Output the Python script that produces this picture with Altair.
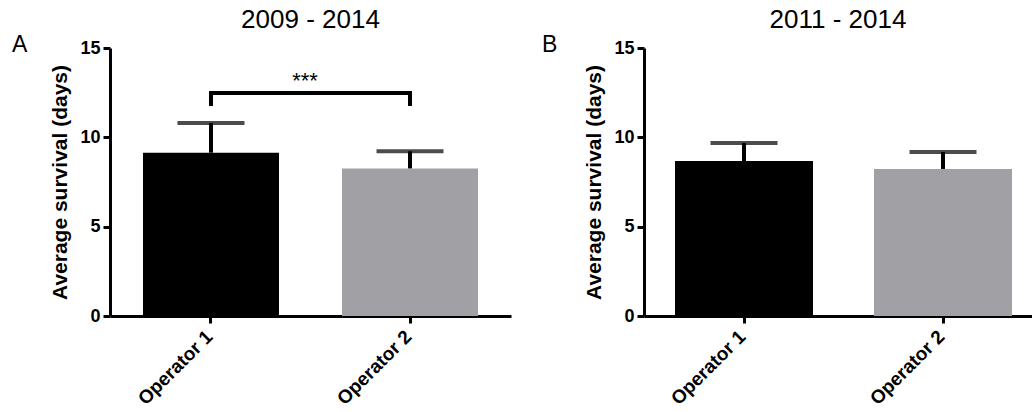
import altair as alt
import pandas as pd

# ---- data ----
operators = ["Operator 1", "Operator 2"]
means_a = [9.14, 8.26]
upper_a = [10.80, 9.22]
means_b = [8.67, 8.23]
upper_b = [9.68, 9.18]
bar_colors = ["#000000", "#a1a1a5"]
y_ticks = [0, 5, 10, 15]
bracket_ops = ["Operator 1", "Operator 1", "Operator 2", "Operator 2"]
bracket_y = [11.75, 12.48, 12.48, 11.75]
bracket_order = [0, 1, 2, 3]
sig_label = ["***"]
sig_y = [12.76]
titles = ["2009 - 2014", "2011 - 2014"]
letters = ["A", "B"]
y_title = "Average survival (days)"

FONT = "Liberation Sans"


def panel(means, upper, title, letter, width, pad_inner, pad_outer, align,
          letter_x, with_bracket):
    df = pd.DataFrame({"op": operators, "mean": means, "upper": upper,
                       "color": bar_colors})
    xscale = alt.Scale(domain=operators, paddingInner=pad_inner,
                       paddingOuter=pad_outer, align=align)
    xaxis = alt.Axis(title=None, labelAngle=-45, labelPadding=4,
                     labelAlign="right", labelBaseline="top",
                     labelOffset=-8)
    yscale = alt.Scale(domain=[0, 15], nice=False, zero=True)
    yaxis = alt.Axis(title=y_title, values=y_ticks, titlePadding=9,
                     labelPadding=3)

    def xenc():
        return alt.X("op:N", scale=xscale, axis=xaxis, sort=operators)

    def yenc(field):
        return alt.Y(field, scale=yscale, axis=yaxis)

    bars = alt.Chart(df).mark_bar().encode(
        x=xenc(), y=yenc("mean:Q"),
        color=alt.Color("color:N", scale=None))
    stems = alt.Chart(df).mark_rule(strokeWidth=4, color="black").encode(
        x=xenc(), y=yenc("mean:Q"), y2=alt.Y2("upper:Q"))
    caps = alt.Chart(df).mark_tick(size=67, thickness=4, color="black").encode(
        x=xenc(), y=yenc("upper:Q"))

    layers = [bars, stems, caps]

    if with_bracket:
        bdf = pd.DataFrame({"op": bracket_ops, "mean": bracket_y,
                            "k": bracket_order})
        bracket = alt.Chart(bdf).mark_line(
            strokeWidth=4, color="black", strokeJoin="miter",
            strokeCap="butt").encode(
            x=xenc(), y=yenc("mean:Q"), order="k:Q")
        sdf = pd.DataFrame({"t": sig_label, "mean": sig_y})
        stars = alt.Chart(sdf).mark_text(
            fontSize=22, align="center", baseline="alphabetic",
            color="black").encode(
            x=alt.value(195), y=yenc("mean:Q"), text="t:N")
        layers += [bracket, stars]

    tdf = pd.DataFrame({"t": [title]})
    ttl = alt.Chart(tdf).mark_text(
        fontSize=26, align="center", baseline="alphabetic",
        color="black").encode(
        x=alt.value(width / 2), y=alt.value(-20), text="t:N")
    ldf = pd.DataFrame({"t": [letter]})
    let = alt.Chart(ldf).mark_text(
        fontSize=23, align="left", baseline="alphabetic",
        color="black").encode(
        x=alt.value(letter_x), y=alt.value(4), text="t:N")
    layers += [ttl, let]

    return alt.layer(*layers).properties(width=width, height=268)


left = panel(means_a, upper_a, titles[0], letters[0], 401, 0.3166, 0.1658,
             0.5, -98, True)
right = panel(means_b, upper_b, titles[1], letters[1], 388, 0.3065, 0.1281,
              0.608, -102, False)

chart = alt.hconcat(left, right, spacing=31).properties(
    padding={"left": 12, "top": 7, "right": 0, "bottom": 0}
).configure(font=FONT).configure_view(stroke=None).configure_axis(
    grid=False,
    domainColor="black", domainWidth=3,
    tickColor="black", tickWidth=3, tickSize=7,
    labelColor="black", labelFont=FONT, labelFontWeight="bold",
    labelFontSize=18,
    titleColor="black", titleFont=FONT, titleFontWeight="bold",
    titleFontSize=21,
).configure_axisX(labelFontSize=19)

chart.save("out.html", embed_options={"renderer": "svg", "actions": False})
